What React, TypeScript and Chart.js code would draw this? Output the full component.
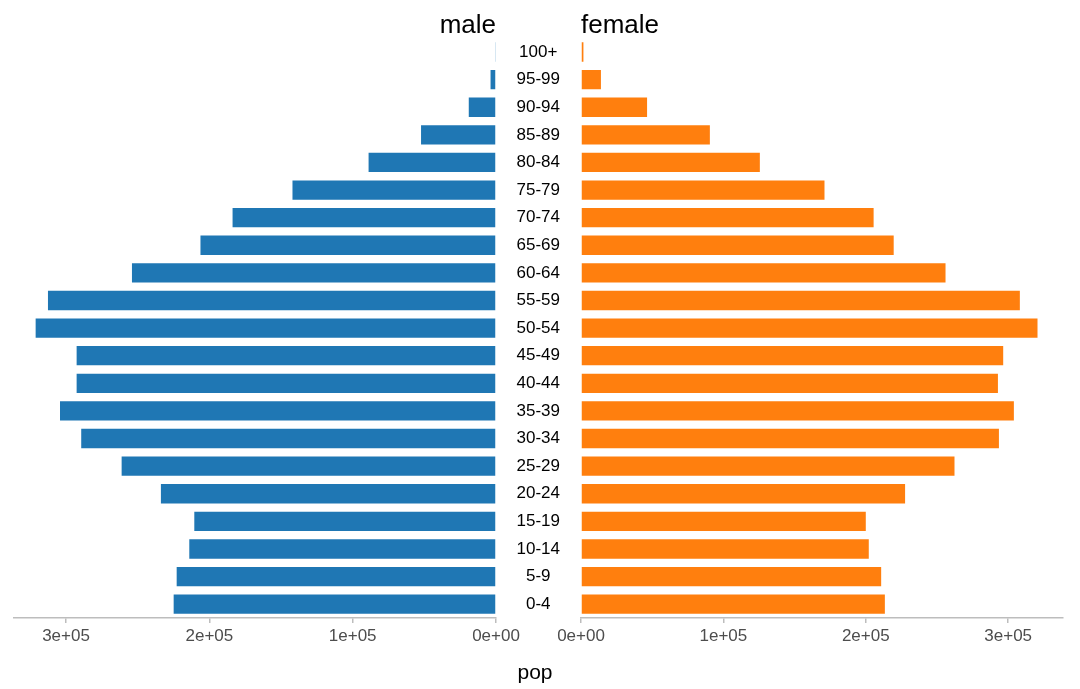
import React, { useEffect, useRef } from "react";
import { Chart, registerables } from "chart.js";

Chart.register(...registerables);

const ageGroups = [
  "0-4", "5-9", "10-14", "15-19", "20-24", "25-29", "30-34", "35-39", "40-44", "45-49",
  "50-54", "55-59", "60-64", "65-69", "70-74", "75-79", "80-84", "85-89", "90-94", "95-99", "100+",
];
const malePop = [
  224900, 222800, 214000, 210500, 233800, 261200, 289400, 304200, 292600, 292600,
  321200, 312600, 254000, 206200, 183800, 142000, 88900, 52300, 19000, 3800, 400,
];
const femalePop = [
  213400, 210800, 202100, 200000, 227600, 262300, 293500, 304000, 292800, 296500,
  320600, 308200, 256000, 219600, 205500, 171000, 125600, 90500, 46400, 14000, 1700,
];
const tickValues = [0, 100000, 200000, 300000];
const tickLabels = ["0e+00", "1e+05", "2e+05", "3e+05"];
const panelTitles = ["male", "female"];
const axisTitle = "pop";
const maleMax = 336300;
const femaleMax = 338500;

const FONT = "'Liberation Sans', Arial, Helvetica, sans-serif";
const AXIS_COLOR = "#bdbdbd";

function xAxis(reverse: boolean, max: number) {
  return {
    type: "linear" as const,
    bounds: "data" as const,
    min: 0,
    max,
    reverse,
    grid: { drawOnChartArea: false, drawTicks: true, tickLength: 5, color: AXIS_COLOR, lineWidth: 1.5 },
    border: { display: true, color: AXIS_COLOR, width: 1.5 },
    afterBuildTicks: (scale: any) => {
      scale.ticks = tickValues.map((v) => ({ value: v }));
    },
    ticks: {
      autoSkip: false,
      padding: 3,
      color: "#4d4d4d",
      font: { family: FONT, size: 17 },
      maxRotation: 0,
      callback: (v: any) => {
        const i = tickValues.indexOf(Number(v));
        return i >= 0 ? tickLabels[i] : "";
      },
    },
    afterFit: (scale: any) => {
      scale.height = 71;
    },
  };
}

export default function App() {
  const leftRef = useRef<HTMLCanvasElement>(null);
  const rightRef = useRef<HTMLCanvasElement>(null);

  useEffect(() => {
    const left = new Chart(leftRef.current!, {
      type: "bar",
      data: {
        labels: ageGroups,
        datasets: [
          {
            data: malePop,
            backgroundColor: "#1f77b4",
            barPercentage: 0.7,
            categoryPercentage: 1,
          },
        ],
      },
      options: {
        indexAxis: "y",
        responsive: false,
        animation: false,
        layout: { padding: { left: 14, right: 44, top: 0, bottom: 0 } },
        plugins: {
          legend: { display: false },
          tooltip: { enabled: false },
          title: {
            display: true,
            text: panelTitles[0],
            align: "end",
            fullSize: false,
            color: "#000",
            font: { family: FONT, size: 26, weight: "normal" },
            padding: { top: 10, bottom: -3 },
          },
        },
        scales: {
          x: xAxis(true, maleMax),
          y: { reverse: true, display: false },
        },
      },
    });

    const right = new Chart(rightRef.current!, {
      type: "bar",
      data: {
        labels: ageGroups,
        datasets: [
          {
            data: femalePop,
            backgroundColor: "#ff7f0e",
            barPercentage: 0.7,
            categoryPercentage: 1,
          },
        ],
      },
      options: {
        indexAxis: "y",
        responsive: false,
        animation: false,
        layout: { padding: { left: 0, right: 17, top: 0, bottom: 0 } },
        plugins: {
          legend: { display: false },
          tooltip: { enabled: false },
          title: {
            display: true,
            text: panelTitles[1],
            align: "start",
            fullSize: false,
            color: "#000",
            font: { family: FONT, size: 26, weight: "normal" },
            padding: { top: 10, bottom: -3 },
          },
        },
        scales: {
          x: xAxis(false, femaleMax),
          y: {
            reverse: true,
            grid: { display: false, drawTicks: false },
            border: { display: false },
            ticks: {
              crossAlign: "center",
              padding: 21,
              color: "#000",
              font: { family: FONT, size: 17 },
            },
            afterFit: (scale: any) => {
              scale.width = 85;
            },
          },
        },
      },
    });

    return () => {
      left.destroy();
      right.destroy();
    };
  }, []);

  return (
    <div style={{ position: "absolute", left: 0, top: 0, width: 1080, height: 689, background: "#fff" }}>
      <canvas ref={leftRef} width={540} height={689} style={{ position: "absolute", left: 0, top: 0 }} />
      <canvas ref={rightRef} width={584} height={689} style={{ position: "absolute", left: 496, top: 0 }} />
      <div
        style={{
          position: "absolute",
          left: 435,
          width: 200,
          top: 660,
          textAlign: "center",
          fontFamily: FONT,
          fontSize: 21,
          lineHeight: "24px",
          color: "#000",
        }}
      >
        {axisTitle}
      </div>
    </div>
  );
}
